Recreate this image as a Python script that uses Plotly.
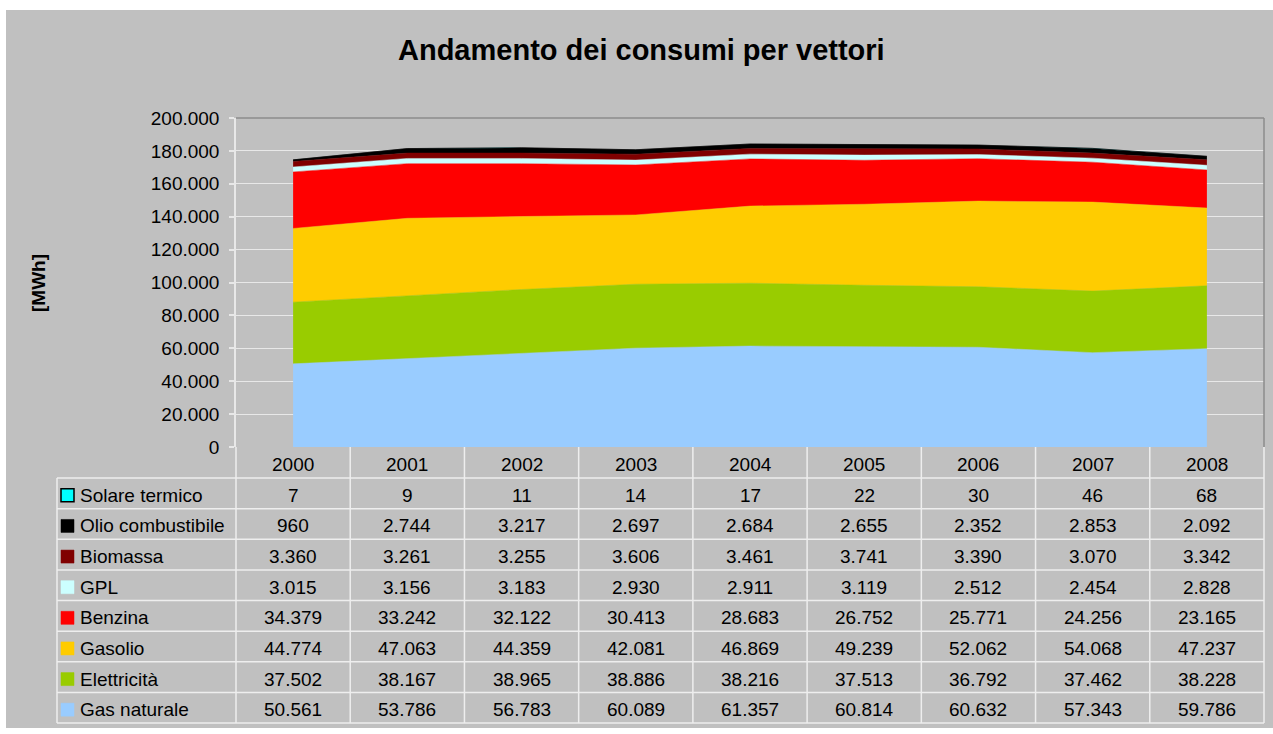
import plotly.graph_objects as go

# ---------------- data ----------------
years = [2000, 2001, 2002, 2003, 2004, 2005, 2006, 2007, 2008]
solare_termico = [7, 9, 11, 14, 17, 22, 30, 46, 68]
olio_combustibile = [960, 2744, 3217, 2697, 2684, 2655, 2352, 2853, 2092]
biomassa = [3360, 3261, 3255, 3606, 3461, 3741, 3390, 3070, 3342]
gpl = [3015, 3156, 3183, 2930, 2911, 3119, 2512, 2454, 2828]
benzina = [34379, 33242, 32122, 30413, 28683, 26752, 25771, 24256, 23165]
gasolio = [44774, 47063, 44359, 42081, 46869, 49239, 52062, 54068, 47237]
elettricita = [37502, 38167, 38965, 38886, 38216, 37513, 36792, 37462, 38228]
gas_naturale = [50561, 53786, 56783, 60089, 61357, 60814, 60632, 57343, 59786]

title_text = "Andamento dei consumi per vettori"
y_title = "[MWh]"

# stacking order bottom -> top
stack = [
    ("Gas naturale", gas_naturale, "#99ccff"),
    ("Elettricità", elettricita, "#99cc00"),
    ("Gasolio", gasolio, "#ffcc00"),
    ("Benzina", benzina, "#ff0000"),
    ("GPL", gpl, "#ccffff"),
    ("Biomassa", biomassa, "#800000"),
    ("Olio combustibile", olio_combustibile, "#000000"),
    ("Solare termico", solare_termico, "#00ffff"),
]

W, H = 1273, 734
FONT = "Liberation Sans, Arial, sans-serif"


def px(xp):
    return xp / W


def py(yp):
    return 1 - yp / H


PLOT_L, PLOT_R, PLOT_T, PLOT_B = 236, 1264, 118, 447

fig = go.Figure()
for name, vals, col in stack:
    lc = "#000000" if name == "Solare termico" else col
    fig.add_trace(go.Scatter(
        x=years, y=vals, name=name, mode="lines", stackgroup="one",
        fillcolor=col, line=dict(color=lc, width=0.5),
        hoverinfo="x+y+name",
    ))

shapes = []
annotations = []

# chart background
shapes.append(dict(type="rect", xref="paper", yref="paper",
                   x0=px(6), x1=px(1273), y0=py(728), y1=py(10),
                   fillcolor="#c0c0c0", line=dict(width=0), layer="below"))

# title
annotations.append(dict(text=f"<b>{title_text}</b>", xref="paper", yref="paper",
                        x=px(641), y=py(50), showarrow=False,
                        font=dict(family=FONT, size=29, color="#000000"),
                        xanchor="center", yanchor="middle"))
# y axis title
annotations.append(dict(text=f"<b>{y_title}</b>", xref="paper", yref="paper",
                        x=px(38), y=py(283), showarrow=False, textangle=-90,
                        font=dict(family=FONT, size=19, color="#000000"),
                        xanchor="center", yanchor="middle"))

# ---------------- data table ----------------
LINE = dict(color="#eeeeee", width=1.5)
TABLE_L = 57
ROW_TOP = 478
ROW_H = (723 - 478) / 8
n = len(years)
col_w = (PLOT_R - PLOT_L) / n

# plot-area border (top / right)
BORDER = dict(color="#8c8c8c", width=1.5)
shapes.append(dict(type="line", xref="paper", yref="paper",
                   x0=px(PLOT_L), x1=px(PLOT_R), y0=py(PLOT_T), y1=py(PLOT_T), line=BORDER))
shapes.append(dict(type="line", xref="paper", yref="paper",
                   x0=px(PLOT_R), x1=px(PLOT_R), y0=py(PLOT_T), y1=py(PLOT_B), line=BORDER))

# vertical lines
for k in range(n + 1):
    xx = PLOT_L + k * col_w
    shapes.append(dict(type="line", xref="paper", yref="paper",
                       x0=px(xx), x1=px(xx), y0=py(PLOT_B), y1=py(723), line=LINE))
shapes.append(dict(type="line", xref="paper", yref="paper",
                   x0=px(TABLE_L), x1=px(TABLE_L), y0=py(ROW_TOP), y1=py(723), line=LINE))
# horizontal lines
for r in range(9):
    yy = ROW_TOP + r * ROW_H
    shapes.append(dict(type="line", xref="paper", yref="paper",
                       x0=px(TABLE_L), x1=px(PLOT_R), y0=py(yy), y1=py(yy), line=LINE))

# header (years)
for yr in years:
    annotations.append(dict(text=str(yr), xref="x", yref="paper", x=yr, y=py(464),
                            showarrow=False, xanchor="center", yanchor="middle",
                            font=dict(family=FONT, size=19, color="#000000")))


def fmt(v):
    return f"{v:,}".replace(",", ".")


rows = list(reversed(stack))
for r, (name, vals, col) in enumerate(rows):
    yc = ROW_TOP + (r + 0.5) * ROW_H + 2
    border = "#000000" if name == "Solare termico" else col
    shapes.append(dict(type="rect", xref="paper", yref="paper",
                       x0=px(61), x1=px(74), y0=py(yc + 6.5), y1=py(yc - 6.5),
                       fillcolor=col, line=dict(color=border, width=1.5 if name == "Solare termico" else 0.5)))
    annotations.append(dict(text=name, xref="paper", yref="paper", x=px(78), y=py(yc),
                            showarrow=False, xanchor="left", yanchor="middle",
                            font=dict(family=FONT, size=19, color="#000000")))
    for yr, v in zip(years, vals):
        annotations.append(dict(text=fmt(v), xref="x", yref="paper", x=yr, y=py(yc),
                                showarrow=False, xanchor="center", yanchor="middle",
                                font=dict(family=FONT, size=19, color="#000000")))

fig.update_layout(
    width=W, height=H, autosize=False,
    margin=dict(l=0, r=0, t=0, b=0, pad=0, autoexpand=False),
    paper_bgcolor="#ffffff",
    plot_bgcolor="#808080",
    showlegend=False,
    separators=",.",
    font=dict(family=FONT, size=19, color="#000000"),
    xaxis=dict(domain=[px(PLOT_L), px(PLOT_R)], range=[years[0] - 0.5, years[-1] + 0.5],
               showticklabels=False, showgrid=False, zeroline=False, ticks="",
               showline=False, fixedrange=True, automargin=False),
    yaxis=dict(domain=[py(PLOT_B), py(PLOT_T)], range=[0, 200000], dtick=20000,
               tickformat=",d", showgrid=True, gridcolor="#e8e8e8", gridwidth=1,
               zeroline=False, showline=True, linecolor="#e8e8e8", linewidth=1.5,
               ticks="outside", ticklen=5, tickcolor="#e8e8e8", tickwidth=1.5,
               ticklabelstandoff=6, automargin=False,
               tickfont=dict(family=FONT, size=19, color="#000000"), fixedrange=True),
    shapes=shapes,
    annotations=annotations,
)

fig.write_html("out.html", config={"displayModeBar": False},
               post_script="document.body.style.margin='0';document.body.style.overflow='hidden';")
